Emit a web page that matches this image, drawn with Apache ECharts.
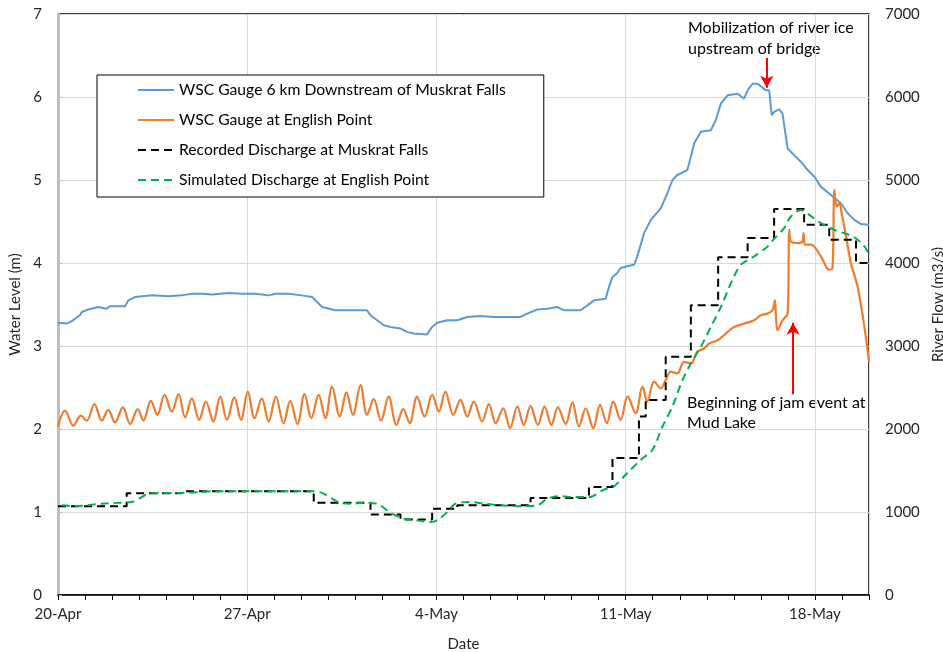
<!DOCTYPE html>
<html>
<head>
<meta charset="utf-8">
<script src="https://cdn.jsdelivr.net/npm/echarts@6/dist/echarts.min.js"></script>
<style>
  html, body { margin: 0; padding: 0; background: #fff; }
  #chart { width: 943px; height: 652px; }
</style>
</head>
<body>
<div id="chart"></div>
<script>
// Days counted from 20-Apr 00:00
const weekTickDays = [0, 7, 14, 21, 28];
const weekTickLabels = ['20-Apr', '27-Apr', '4-May', '11-May', '18-May'];

// Water level (m), WSC gauge 6 km downstream of Muskrat Falls
const gaugeDownstream = [
  [0, 3.28], [0.32, 3.27], [0.51, 3.30], [0.81, 3.37], [0.88, 3.41], [1.12, 3.44], [1.49, 3.47],
  [1.80, 3.45], [1.93, 3.48], [2.48, 3.48], [2.60, 3.55], [2.85, 3.59], [3.47, 3.61], [4.09, 3.60],
  [4.58, 3.61], [4.95, 3.63], [5.32, 3.63], [5.69, 3.62], [6.31, 3.64], [6.80, 3.63], [7.30, 3.63],
  [7.79, 3.61], [8.04, 3.63], [8.53, 3.63], [9.02, 3.61], [9.40, 3.59], [9.77, 3.47], [10.26, 3.43],
  [10.63, 3.43], [11.43, 3.43], [11.56, 3.37], [12.05, 3.25], [12.30, 3.23], [12.67, 3.21],
  [12.91, 3.17], [13.16, 3.15], [13.65, 3.14], [13.84, 3.23], [14.02, 3.28], [14.40, 3.31],
  [14.77, 3.31], [15.14, 3.35], [15.63, 3.36], [16.12, 3.35], [16.62, 3.35], [17.11, 3.35],
  [17.36, 3.39], [17.73, 3.44], [18.10, 3.45], [18.47, 3.47], [18.72, 3.43], [19.33, 3.43],
  [19.58, 3.49], [19.83, 3.55], [20.26, 3.57], [20.38, 3.71], [20.51, 3.83], [20.69, 3.88],
  [20.81, 3.94], [21.06, 3.96], [21.31, 3.98], [21.43, 4.08], [21.68, 4.36], [21.93, 4.52],
  [22.30, 4.66], [22.54, 4.84], [22.73, 5.00], [22.91, 5.06], [23.28, 5.12], [23.41, 5.28],
  [23.53, 5.44], [23.78, 5.58], [24.15, 5.60], [24.33, 5.72], [24.52, 5.92], [24.77, 6.02],
  [25.14, 6.04], [25.38, 5.98], [25.51, 6.08], [25.69, 6.16], [25.88, 6.16], [26.19, 6.08],
  [26.31, 6.08], [26.40, 5.78], [26.49, 5.82], [26.68, 5.85], [26.80, 5.80], [26.99, 5.38],
  [27.23, 5.30], [27.48, 5.22], [27.73, 5.12], [27.98, 5.04], [28.22, 4.92], [28.59, 4.82],
  [28.96, 4.72], [29.21, 4.60], [29.46, 4.52], [29.70, 4.47], [30.0, 4.46]
];

// Water level (m), WSC gauge at English Point (tidal)
const gaugeEnglishPoint = [
  [0, 2.03], [0.26, 2.22], [0.57, 2.04], [0.85, 2.16], [1.06, 2.10], [1.35, 2.30], [1.62, 2.10],
  [1.86, 2.23], [2.11, 2.08], [2.40, 2.26], [2.67, 2.06], [2.95, 2.24], [3.16, 2.10], [3.43, 2.34],
  [3.68, 2.17], [3.94, 2.41], [4.21, 2.21], [4.46, 2.42], [4.70, 2.14], [4.95, 2.37], [5.22, 2.11],
  [5.47, 2.33], [5.75, 2.09], [6.00, 2.39], [6.25, 2.11], [6.52, 2.38], [6.77, 2.11], [7.02, 2.45],
  [7.27, 2.13], [7.54, 2.37], [7.79, 2.09], [8.06, 2.39], [8.34, 2.07], [8.59, 2.34], [8.86, 2.06],
  [9.12, 2.42], [9.37, 2.13], [9.64, 2.41], [9.89, 2.13], [10.14, 2.51], [10.42, 2.15], [10.67, 2.44],
  [10.91, 2.17], [11.19, 2.53], [11.43, 2.17], [11.68, 2.36], [11.95, 2.10], [12.23, 2.39],
  [12.52, 2.05], [12.77, 2.24], [13.01, 2.07], [13.28, 2.39], [13.56, 2.15], [13.84, 2.41],
  [14.09, 2.21], [14.33, 2.45], [14.62, 2.17], [14.89, 2.35], [15.14, 2.15], [15.38, 2.33],
  [15.69, 2.09], [15.94, 2.30], [16.19, 2.07], [16.47, 2.25], [16.72, 2.01], [16.99, 2.27],
  [17.23, 2.05], [17.48, 2.28], [17.75, 2.05], [18.00, 2.27], [18.25, 2.05], [18.49, 2.26],
  [18.78, 2.06], [19.03, 2.32], [19.27, 2.03], [19.52, 2.25], [19.80, 2.01], [20.05, 2.29],
  [20.30, 2.07], [20.54, 2.33], [20.81, 2.11], [21.07, 2.39], [21.37, 2.19], [21.62, 2.51],
  [21.80, 2.33], [22.05, 2.57], [22.30, 2.49], [22.48, 2.59], [22.67, 2.69], [22.91, 2.67],
  [23.16, 2.81], [23.41, 2.79], [23.65, 2.93], [23.90, 2.97], [24.09, 3.03], [24.40, 3.07],
  [24.64, 3.13], [24.77, 3.17], [25.01, 3.23], [25.38, 3.27], [25.75, 3.31], [26.00, 3.37],
  [26.25, 3.39], [26.43, 3.43], [26.52, 3.55], [26.56, 3.35], [26.62, 3.19], [26.80, 3.31],
  [26.99, 3.39], [27.05, 4.40], [27.11, 4.26], [27.36, 4.24], [27.54, 4.26], [27.58, 4.36],
  [27.63, 4.22], [27.85, 4.22], [28.22, 4.08], [28.53, 3.92], [28.65, 3.94], [28.72, 4.88],
  [28.81, 4.68], [28.90, 4.72], [28.99, 4.60], [29.15, 4.32], [29.33, 4.00], [29.58, 3.71],
  [29.83, 3.23], [30.0, 2.81]
];

// River flow (m3/s), recorded at Muskrat Falls (held until next entry)
const recordedDischarge = [
  [0, 1070], [2.54, 1225], [4.58, 1250], [9.46, 1110], [11.56, 970], [12.67, 910], [13.84, 1040],
  [14.77, 1080], [17.48, 1170], [19.64, 1300], [20.51, 1650], [21.49, 2150], [21.74, 2350],
  [22.48, 2870], [23.41, 3490], [24.42, 4070], [25.51, 4300], [26.49, 4650], [27.60, 4460],
  [28.53, 4280], [29.52, 4000], [30.0, 4000]
];

// River flow (m3/s), simulated at English Point
const simulatedDischarge = [
  [0.14, 1080], [0.63, 1070], [1.06, 1080], [1.62, 1100], [2.17, 1110], [2.73, 1120], [3.10, 1180],
  [3.34, 1220], [3.84, 1230], [4.58, 1230], [5.20, 1240], [5.81, 1250], [9.40, 1250], [9.77, 1230],
  [10.14, 1160], [10.44, 1110], [10.81, 1100], [11.31, 1110], [11.80, 1100], [12.30, 990],
  [12.79, 920], [13.28, 900], [13.78, 880], [14.02, 900], [14.40, 1000], [14.70, 1100],
  [15.26, 1120], [15.75, 1100], [16.37, 1080], [16.99, 1070], [17.73, 1080], [18.10, 1160],
  [18.59, 1190], [19.09, 1180], [19.64, 1180], [20.20, 1270], [20.57, 1310], [21.06, 1470],
  [21.56, 1630], [21.99, 1750], [22.36, 2030], [22.73, 2270], [23.10, 2590], [23.41, 2790],
  [23.78, 2990], [24.15, 3230], [24.52, 3470], [24.83, 3710], [25.01, 3840], [25.26, 3980],
  [25.75, 4080], [26.25, 4200], [26.49, 4290], [26.86, 4420], [27.11, 4560], [27.48, 4640],
  [27.79, 4580], [28.22, 4480], [28.72, 4400], [29.46, 4310], [29.83, 4200], [30.07, 4080],
  [30.57, 4020], [31.06, 3880], [31.56, 3760]
];

const seriesNames = [
  'WSC Gauge 6 km Downstream of Muskrat Falls',
  'WSC Gauge at English Point',
  'Recorded Discharge at Muskrat Falls',
  'Simulated Discharge at English Point'
];

// Event arrows: [day, fromLevel, toLevel] on the water level axis
const iceArrow = [26.22, 6.47, 6.11];
const jamArrow = [27.19, 2.42, 3.28];

const FONT = 'Lato, "Open Sans", sans-serif';
const TXT = '#262626';

const chart = echarts.init(document.getElementById('chart'), null, { renderer: 'canvas' });

function arrowLine(a) {
  return {
    silent: true,
    animation: false,
    symbol: ['none', 'arrow'],
    symbolSize: [10, 12],
    label: { show: false },
    lineStyle: { color: '#ff0000', width: 2, type: 'solid' },
    emphasis: { disabled: true },
    data: [[{ coord: [a[0], a[1]] }, { coord: [a[0], a[2]] }]]
  };
}

chart.setOption({
  animation: false,
  backgroundColor: '#fff',
  textStyle: { fontFamily: FONT },
  grid: {
    left: 58, right: 74, top: 14, bottom: 57,
    containLabel: false, outerBoundsMode: 'none',
    show: true, borderColor: '#000', borderWidth: 1.5, backgroundColor: 'transparent'
  },
  legend: {
    orient: 'vertical',
    left: 97, top: 75,
    padding: [7, 38, 9, 40],
    itemWidth: 36, itemHeight: 2, itemGap: 14,
    backgroundColor: '#fff',
    borderColor: '#000', borderWidth: 1,
    textStyle: { fontFamily: FONT, fontSize: 15.7, color: '#000' },
    data: seriesNames
  },
  xAxis: [
    {
      type: 'value', min: 0, max: 30, interval: 1, position: 'bottom',
      axisLine: { show: true, lineStyle: { color: '#000', width: 1.5 } },
      axisTick: { show: true, length: 5, lineStyle: { color: '#000', width: 1 } },
      axisLabel: {
        margin: 12, fontSize: 15, color: TXT, fontFamily: FONT,
        formatter: v => {
          const i = weekTickDays.indexOf(v);
          return i >= 0 ? weekTickLabels[i] : '';
        }
      },
      splitLine: { show: false },
      name: 'Date', nameLocation: 'middle', nameGap: 42,
      nameTextStyle: { fontSize: 15, color: TXT, fontFamily: FONT }
    },
    {
      type: 'value', min: 0, max: 30, interval: 7, position: 'top',
      axisLine: { show: false }, axisTick: { show: false }, axisLabel: { show: false },
      splitLine: { show: true, lineStyle: { color: '#d9d9d9', width: 1 } }
    }
  ],
  yAxis: [
    {
      type: 'value', min: 0, max: 7, interval: 1, position: 'left',
      axisLine: { show: true, lineStyle: { color: '#000', width: 1.5 } },
      axisTick: { show: false },
      axisLabel: { margin: 16, fontSize: 15, color: TXT, fontFamily: FONT, formatter: v => String(v) },
      splitLine: { show: true, lineStyle: { color: '#d9d9d9', width: 1 } },
      name: 'Water Level (m)', nameLocation: 'middle', nameGap: 33,
      nameTextStyle: { fontSize: 15, color: TXT, fontFamily: FONT }
    },
    {
      type: 'value', min: 0, max: 7000, interval: 1000, position: 'right',
      axisLine: { show: true, lineStyle: { color: '#bfbfbf', width: 3 } },
      axisTick: { show: true, length: 4, lineStyle: { color: '#bfbfbf', width: 1 } },
      axisLabel: { margin: 16, fontSize: 15, color: TXT, fontFamily: FONT, formatter: v => String(v) },
      splitLine: { show: false },
      name: 'River Flow (m3/s)', nameLocation: 'middle', nameGap: 58,
      nameTextStyle: { fontSize: 15, color: TXT, fontFamily: FONT }
    }
  ],
  series: [
    {
      name: seriesNames[0], type: 'line', xAxisIndex: 0, yAxisIndex: 0,
      data: gaugeDownstream, symbol: 'none', smooth: false,
      lineStyle: { color: '#5b9bd5', width: 2 }, itemStyle: { color: '#5b9bd5' },
      markLine: arrowLine(iceArrow)
    },
    {
      name: seriesNames[1], type: 'line', xAxisIndex: 0, yAxisIndex: 0,
      data: gaugeEnglishPoint, symbol: 'none', smooth: 0.35,
      lineStyle: { color: '#ed7d31', width: 2.25 }, itemStyle: { color: '#ed7d31' },
      markLine: arrowLine(jamArrow)
    },
    {
      name: seriesNames[2], type: 'line', xAxisIndex: 0, yAxisIndex: 1,
      data: recordedDischarge, symbol: 'none', step: 'end',
      lineStyle: { color: '#000', width: 2, type: [8, 5] }, itemStyle: { color: '#000' }
    },
    {
      name: seriesNames[3], type: 'line', xAxisIndex: 0, yAxisIndex: 1,
      data: simulatedDischarge, symbol: 'none', smooth: 0.3, clip: false,
      lineStyle: { color: '#00b050', width: 2, type: [8, 5] }, itemStyle: { color: '#00b050' }
    }
  ],
  graphic: [
    {
      type: 'text', left: 688, top: 17, silent: true,
      style: {
        text: 'Mobilization of river ice\nupstream of bridge',
        font: '16px ' + FONT, fill: '#000', lineHeight: 21
      }
    },
    {
      type: 'text', left: 687, top: 393, silent: true,
      style: {
        text: 'Beginning of jam event at\nMud Lake',
        font: '16px ' + FONT, fill: '#000', lineHeight: 20
      }
    }
  ]
});
</script>
</body>
</html>
